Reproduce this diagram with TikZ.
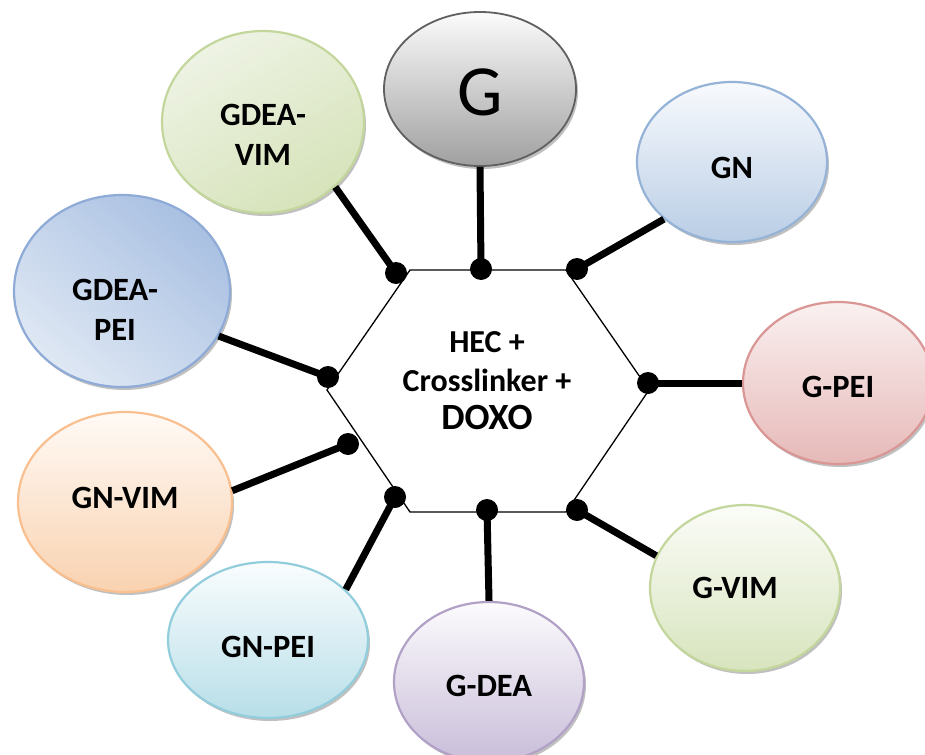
\documentclass[tikz,border=0pt]{standalone}
\usepackage{fontspec}
\setmainfont{Carlito}
\usetikzlibrary{shapes.geometric,shadows}
\definecolor{gB}{HTML}{606060}
\definecolor{gTop}{HTML}{FBFBFB}
\definecolor{gBot}{HTML}{A0A0A0}
\definecolor{gvB}{HTML}{C3D69B}
\definecolor{gvTop}{HTML}{EEF3E4}
\definecolor{gvBot}{HTML}{D6E3BA}
\definecolor{gnB}{HTML}{95B3D7}
\definecolor{gnTop}{HTML}{F8FAFD}
\definecolor{gnBot}{HTML}{B9CDE5}
\definecolor{gpB}{HTML}{8EAAD6}
\definecolor{gpTop}{HTML}{A9C0E2}
\definecolor{gpBot}{HTML}{DFE8F4}
\definecolor{gpeB}{HTML}{D99694}
\definecolor{gpeTop}{HTML}{FAF0F0}
\definecolor{gpeBot}{HTML}{E6B9B8}
\definecolor{gnvB}{HTML}{F9BF8F}
\definecolor{gnvTop}{HTML}{FFFAF6}
\definecolor{gnvBot}{HTML}{F9D2B0}
\definecolor{gnpB}{HTML}{92CDDC}
\definecolor{gnpTop}{HTML}{FAFDFE}
\definecolor{gnpBot}{HTML}{B7DEE8}
\definecolor{gdB}{HTML}{B2A1C7}
\definecolor{gdTop}{HTML}{FCFBFD}
\definecolor{gdBot}{HTML}{C9BDD9}
\definecolor{gviB}{HTML}{C3D69B}
\definecolor{gviTop}{HTML}{FBFCF8}
\definecolor{gviBot}{HTML}{D7E4BD}
\begin{document}
\begin{tikzpicture}[x=1pt,y=-1pt,
  ell/.style={ellipse, inner sep=0pt, line width=2.2pt,
    drop shadow={shadow xshift=2pt,shadow yshift=-3pt,opacity=0.35,fill=black!70}},
  lbl/.style={font=\bfseries\fontsize{32.5}{40}\selectfont, align=center, inner sep=0pt},
  dotnode/.style={circle, fill=black, inner sep=0pt, minimum size=22pt},
  link/.style={line width=7pt, draw=black},
  hexline/.style={line width=1.3pt, draw=black}
]
\useasboundingbox (0,0) rectangle (925,754);
\fill[white] (0,0) rectangle (925,754);

% hexagon
\draw[hexline] (410,270) -- (566,270) -- (649,390) -- (566,512) -- (410,512) -- (327,390) -- cycle;
\node[inner sep=0pt, align=center, font=\bfseries\fontsize{32}{38.5}\selectfont] (core) at (487,381)
  {HEC +\\
   Crosslinker +\\
   {\fontsize{37}{38.5}\selectfont DOXO}};

% ellipses
\node[ell, draw=gB, line width=1.8pt, top color=gTop, bottom color=gBot, minimum width=192pt, minimum height=154pt] (g) at (480,89) {};
\node[ell, draw=gvB, top color=gvTop, bottom color=gvBot, shading angle=30, minimum width=202pt, minimum height=182pt] (gv) at (263,122) {};
\node[ell, draw=gnB, top color=gnTop, bottom color=gnBot, minimum width=190pt, minimum height=160pt] (gn) at (732,162) {};
\node[ell, draw=gpB, top color=gpTop, bottom color=gpBot, shading angle=-40, minimum width=216pt, minimum height=192pt] (gp) at (122,291) {};
\node[ell, draw=gpeB, top color=gpeTop, bottom color=gpeBot, minimum width=190pt, minimum height=162pt] (gpe) at (838,383) {};
\node[ell, draw=gnvB, top color=gnvTop, bottom color=gnvBot, minimum width=214pt, minimum height=180pt] (gnv) at (125,502) {};
\node[ell, draw=gnpB, top color=gnpTop, bottom color=gnpBot, minimum width=200pt, minimum height=156pt] (gnp) at (268,640) {};
\node[ell, draw=gdB, top color=gdTop, bottom color=gdBot, minimum width=190pt, minimum height=160pt] (gd) at (489,682) {};
\node[ell, draw=gviB, top color=gviTop, bottom color=gviBot, minimum width=190pt, minimum height=166pt] (gvi) at (745,588) {};

% labels
\node[inner sep=0pt, font=\fontsize{72}{72}\selectfont] (tg) at (480,92) {G};
\node[lbl] (tgv) at (263,135) {GDEA-\\VIM};
\node[lbl] (tgn) at (732,168) {GN};
\node[lbl] (tgp) at (115,310) {GDEA-\\PEI};
\node[lbl] (tgpe) at (838,387) {G-PEI};
\node[lbl] (tgnv) at (125,498) {GN-VIM};
\node[lbl] (tgnp) at (268,647) {GN-PEI};
\node[lbl] (tgd) at (489,686) {G-DEA};
\node[lbl] (tgvi) at (735,588) {G-VIM};

% dots
\node[dotnode] (d1) at (396,273) {};
\node[dotnode] (d2) at (481,269) {};
\node[dotnode] (d3) at (577,269) {};
\node[dotnode] (d4) at (328,377) {};
\node[dotnode] (d5) at (648,383) {};
\node[dotnode] (d6) at (348,444) {};
\node[dotnode] (d7) at (395,497) {};
\node[dotnode] (d8) at (487,510) {};
\node[dotnode] (d9) at (577,510) {};

% connectors
\draw[link] (d1.center) -- (gv.-42);
\draw[link] (d2.center) -- (g.-90);
\draw[link] (d3.center) -- (gn.220);
\draw[link] (d4.center) -- (gp.-25);
\draw[link] (d5.center) -- (gpe.180);
\draw[link] (d6.center) -- (gnv.6);
\draw[link] (d7.center) -- (gnp.33);
\draw[link] (d8.center) -- (gd.90);
\draw[link] (d9.center) -- (gvi.160);
\end{tikzpicture}
\end{document}
